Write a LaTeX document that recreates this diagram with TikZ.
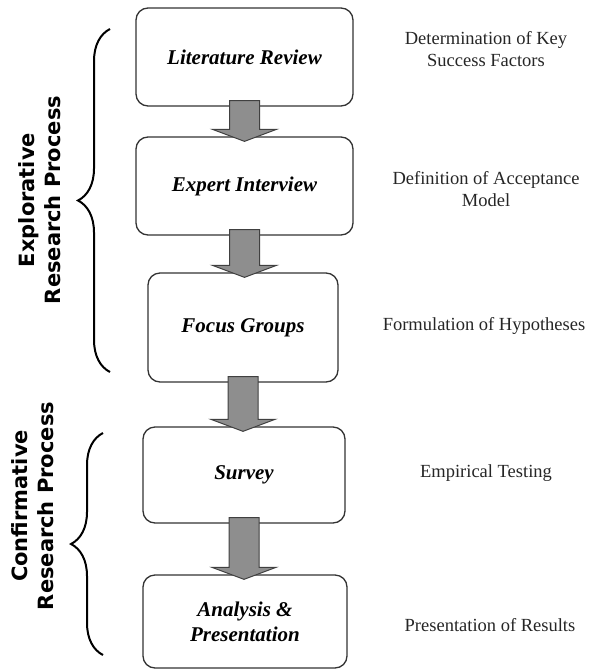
\documentclass[tikz,border=0pt]{standalone}
\usepackage{fontspec}
\setmainfont{Liberation Serif}
\newfontfamily\procfont{DejaVu Sans}
\usepackage{tikz}
\usetikzlibrary{positioning, calc, decorations.pathreplacing}

\definecolor{boxline}{HTML}{333333}
\definecolor{arrowfill}{HTML}{8E8E8E}
\definecolor{arrowline}{HTML}{404040}

\begin{document}
\begin{tikzpicture}[
    x=1pt, y=-1pt,
    stage/.style={rectangle, rounded corners=12pt, draw=boxline, line width=1.3pt,
      align=center, inner sep=0pt, font=\fontsize{21}{25}\selectfont\bfseries\itshape},
    result/.style={align=center, text=black!85, font=\fontsize{18.5}{22}\selectfont},
    phase/.style={rotate=90, align=center, font=\procfont\bfseries\fontsize{21}{26}\selectfont},
    curly/.style={decorate, decoration={brace, amplitude=32pt}, line width=2pt},
    bigarrow/.style={fill=arrowfill, draw=arrowline, line width=1pt,
      to path={let \p1=(\tikztostart), \p2=(\tikztotarget) in
        (\x1-15pt,\y1+6pt) -- (\x1+15pt,\y1+6pt) -- (\x1+15pt,\y2+7pt)
        -- (\x1+32pt,\y2+7pt) -- (\x1,\y2-5pt) -- (\x1-32pt,\y2+7pt)
        -- (\x1-15pt,\y2+7pt) -- cycle}},
  ]
  \useasboundingbox (0,0) rectangle (590,672);

  %% --- Process steps (rounded boxes) ---
  \node[stage, minimum width=217pt, minimum height=98pt] (lit) at (244.5,57) {Literature Review};
  \node[stage, minimum width=217pt, minimum height=98pt] (expert) at (244.5,186) {Expert Interview};
  \node[stage, minimum width=190pt, minimum height=109pt] (focus) at (243,327.5) {Focus Groups};
  \node[stage, minimum width=202pt, minimum height=96pt] (survey) at (244,475) {Survey};
  \node[stage, minimum width=204pt, minimum height=93pt] (analysis) at (245,621.5) {Analysis \&\\Presentation};

  %% --- Block arrows between the steps ---
  \draw[bigarrow] (lit.south) to (expert.north);
  \draw[bigarrow] (expert.south) to (focus.north);
  \draw[bigarrow] (focus.south) to (survey.north);
  \draw[bigarrow] (survey.south) to (analysis.north);

  %% --- Outcomes (right column) ---
  \node[result] (keyf) at (486,49) {Determination of Key\\Success Factors};
  \node[result] (accm) at (486,189) {Definition of Acceptance\\Model};
  \node[result] (hypo) at (484,326) {Formulation of Hypotheses};
  \node[result] (test) at (486,473) {Empirical Testing};
  \node[result] (pres) at (490,625) {Presentation of Results};

  %% --- Braces and phase labels (left) ---
  % Explorative: first three steps
  \coordinate (expTop) at (110,29);
  \coordinate (expBot) at (110,372);
  \draw[curly] (expBot) -- (expTop);
  \node[phase] (explo) at (40,200) {Explorative\\Research Process};
  % Confirmative: last two steps
  \coordinate (conTop) at (103,433);
  \coordinate (conBot) at (103,655);
  \draw[curly] (conBot) -- (conTop);
  \node[phase] (confirm) at (33,506) {Confirmative\\Research Process};
\end{tikzpicture}
\end{document}
